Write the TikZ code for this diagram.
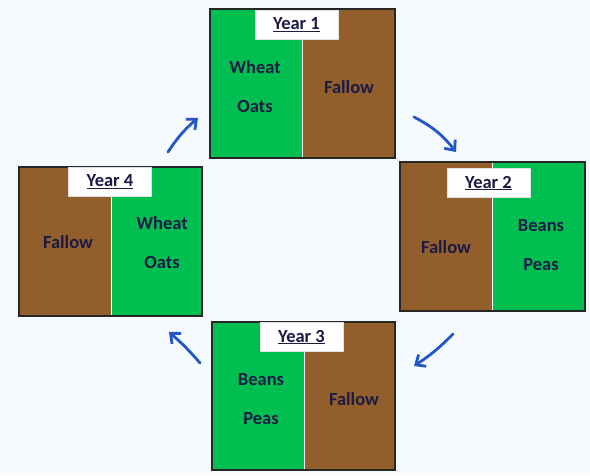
\documentclass[tikz,border=0pt]{standalone}
\usepackage{fontspec}
\setmainfont{Carlito}
\usetikzlibrary{arrows.meta}
\definecolor{bg}{HTML}{F4FAFE}
\definecolor{grn}{HTML}{00BF50}
\definecolor{brn}{HTML}{925E2C}
\definecolor{ink}{HTML}{1B1B45}
\definecolor{arr}{HTML}{2357C8}
\begin{document}
\begin{tikzpicture}[x=1pt,y=-1pt,
  frame/.style={draw=black!85,line width=1.3pt},
  divline/.style={draw=white,line width=1pt},
  crop/.style={font=\bfseries\fontsize{18.5}{22}\selectfont,text=ink,inner sep=0pt},
  yearbox/.style={fill=white,draw=black!12,line width=0.5pt,inner sep=0pt,
    minimum width=83pt,minimum height=29pt,font=\bfseries\fontsize{18.5}{22}\selectfont,text=ink},
  cyc/.style={draw=arr,line width=2.8pt,line cap=round,-{Straight Barb[length=8pt,width=14pt,line width=2.8pt]}}]
\fill[bg] (0,0) rectangle (590,475);
\useasboundingbox (0,0) rectangle (590,475);
% Year 1
\fill[grn] (210,9) rectangle (302,158);
\fill[brn] (302,9) rectangle (395,158);
\draw[divline] (302,9) -- (302,158);
\draw[frame] (210,9) rectangle (395,158);
\node[yearbox] (y1) at (296.5,24.5) {\underline{Year 1}};
\node[crop] (w1) at (255,67) {Wheat};
\node[crop] (o1) at (255,106) {Oats};
\node[crop] (f1) at (349,87) {Fallow};
% Year 2
\fill[brn] (400,162) rectangle (492,311);
\fill[grn] (492,162) rectangle (585,311);
\draw[divline] (492,162) -- (492,311);
\draw[frame] (400,162) rectangle (585,311);
\node[yearbox] (y2) at (488.5,183) {\underline{Year 2}};
\node[crop] (f2) at (446,247) {Fallow};
\node[crop] (b2) at (541,226) {Beans};
\node[crop] (p2) at (541,265) {Peas};
% Year 3
\fill[grn] (212,322) rectangle (304,470);
\fill[brn] (304,322) rectangle (395,470);
\draw[divline] (304,322) -- (304,470);
\draw[frame] (212,322) rectangle (395,470);
\node[yearbox] (y3) at (301.5,337) {\underline{Year 3}};
\node[crop] (b3) at (261,380) {Beans};
\node[crop] (p3) at (261,419) {Peas};
\node[crop] (f3) at (354,399) {Fallow};
% Year 4
\fill[brn] (19,167) rectangle (111,316);
\fill[grn] (111,167) rectangle (202,316);
\draw[divline] (111,167) -- (111,316);
\draw[frame] (19,167) rectangle (202,316);
\node[yearbox] (y4) at (110,182) {\underline{Year 4}};
\node[crop] (f4) at (68,242) {Fallow};
\node[crop] (w4) at (162,223) {Wheat};
\node[crop] (o4) at (162,262) {Oats};
% arrows
\coordinate (a1s) at (168,152); \coordinate (a1e) at (198,118);
\coordinate (a2s) at (414,117); \coordinate (a2e) at (456,152);
\coordinate (a3s) at (453,334); \coordinate (a3e) at (414,366);
\coordinate (a4s) at (200,363); \coordinate (a4e) at (169,332);
\draw[cyc] (a1s) to[bend left=8] (a1e);
\draw[cyc] (a2s) to[bend left=12] (a2e);
\draw[cyc] (a3s) to[bend left=6] (a3e);
\draw[cyc] (a4s) to[bend right=4] (a4e);
\end{tikzpicture}
\end{document}
